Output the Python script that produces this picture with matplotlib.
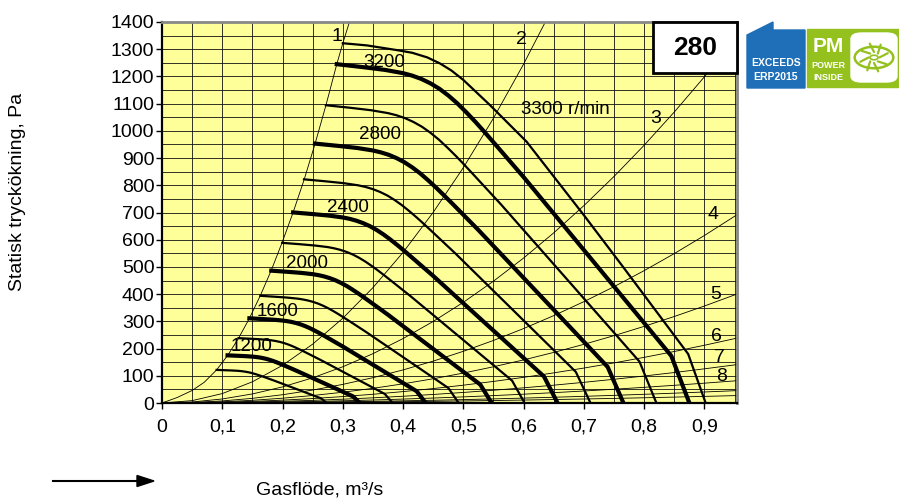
import numpy as np
import matplotlib.pyplot as plt
from matplotlib.patches import Rectangle, Polygon, FancyBboxPatch, Circle
from matplotlib.ticker import MultipleLocator, FuncFormatter

plt.rcParams['font.family'] = ['Liberation Sans', 'DejaVu Sans']

# fläktkurvor (flöde m3/s, tryck Pa)
q_1000 = [0.0906, 0.1044, 0.1156, 0.125, 0.1297, 0.1344, 0.1391, 0.1438, 0.1484, 0.1531, 0.1578, 0.1625, 0.1672, 0.1719, 0.1875, 0.2188, 0.25, 0.2641, 0.2734]
p_1000 = [121.6, 120.5, 119.5, 118.4, 117.5, 116.3, 114.7, 112.8, 110.4, 107.5, 104.3, 100.9, 97.3, 93.6, 81.1, 54.9, 28.7, 16.9, 0]
q_1200 = [0.1088, 0.1253, 0.1388, 0.15, 0.1556, 0.1613, 0.1669, 0.1725, 0.1781, 0.1838, 0.1894, 0.195, 0.2006, 0.2063, 0.225, 0.2625, 0.3, 0.3169, 0.3281]
p_1200 = [175.1, 173.5, 172.1, 170.4, 169.2, 167.5, 165.2, 162.4, 158.9, 154.8, 150.2, 145.3, 140.1, 134.7, 116.7, 79.0, 41.3, 24.3, 0]
q_1400 = [0.1269, 0.1461, 0.1619, 0.175, 0.1816, 0.1881, 0.1947, 0.2013, 0.2078, 0.2144, 0.2209, 0.2275, 0.2341, 0.2406, 0.2625, 0.3063, 0.35, 0.3697, 0.3828]
p_1400 = [238.3, 236.2, 234.3, 232.0, 230.3, 228.0, 224.9, 221.1, 216.3, 210.7, 204.4, 197.7, 190.6, 183.4, 158.9, 107.6, 56.3, 33.1, 0]
q_1600 = [0.145, 0.167, 0.185, 0.2, 0.2075, 0.215, 0.2225, 0.23, 0.2375, 0.245, 0.2525, 0.26, 0.2675, 0.275, 0.3, 0.35, 0.4, 0.4225, 0.4375]
p_1600 = [311.3, 308.5, 306, 303, 300.8, 297.8, 293.8, 288.8, 282.5, 275.3, 267, 258.3, 249, 239.5, 207.5, 140.5, 73.5, 43.3, 0]
q_1800 = [0.1631, 0.1879, 0.2081, 0.225, 0.2334, 0.2419, 0.2503, 0.2588, 0.2672, 0.2756, 0.2841, 0.2925, 0.3009, 0.3094, 0.3375, 0.3938, 0.45, 0.4753, 0.4922]
p_1800 = [393.9, 390.4, 387.3, 383.5, 380.6, 376.8, 371.8, 365.4, 357.5, 348.4, 337.9, 326.8, 315.1, 303.1, 262.6, 177.8, 93.0, 54.7, 0]
q_2000 = [0.1813, 0.2088, 0.2313, 0.25, 0.2594, 0.2688, 0.2781, 0.2875, 0.2969, 0.3063, 0.3156, 0.325, 0.3344, 0.3438, 0.375, 0.4375, 0.5, 0.5281, 0.5469]
p_2000 = [486.3, 482.0, 478.1, 473.4, 469.9, 465.2, 459.0, 451.2, 441.4, 430.1, 417.2, 403.5, 389.1, 374.2, 324.2, 219.5, 114.8, 67.6, 0]
q_2200 = [0.1994, 0.2296, 0.2544, 0.275, 0.2853, 0.2956, 0.3059, 0.3163, 0.3266, 0.3369, 0.3472, 0.3575, 0.3678, 0.3781, 0.4125, 0.4813, 0.55, 0.5809, 0.6016]
p_2200 = [588.5, 583.3, 578.5, 572.9, 568.6, 562.9, 555.4, 545.9, 534.1, 520.4, 504.8, 488.3, 470.8, 452.8, 392.3, 265.6, 139.0, 81.8, 0]
q_2400 = [0.2175, 0.2505, 0.2775, 0.3, 0.3113, 0.3225, 0.3338, 0.345, 0.3563, 0.3675, 0.3788, 0.39, 0.4013, 0.4125, 0.45, 0.525, 0.6, 0.6338, 0.6563]
p_2400 = [700.3, 694.1, 688.5, 681.8, 676.7, 669.9, 660.9, 649.7, 635.6, 619.3, 600.8, 581.1, 560.3, 538.9, 466.9, 316.1, 165.4, 97.3, 0]
q_2600 = [0.2356, 0.2714, 0.3006, 0.325, 0.3372, 0.3494, 0.3616, 0.3738, 0.3859, 0.3981, 0.4103, 0.4225, 0.4347, 0.4469, 0.4875, 0.5688, 0.65, 0.6866, 0.7109]
p_2600 = [821.9, 814.6, 808.0, 800.1, 794.2, 786.2, 775.7, 762.5, 746.0, 726.8, 705.0, 681.9, 657.5, 632.4, 547.9, 371.0, 194.1, 114.2, 0]
q_2800 = [0.2538, 0.2923, 0.3238, 0.35, 0.3631, 0.3763, 0.3894, 0.4025, 0.4156, 0.4288, 0.4419, 0.455, 0.4681, 0.4813, 0.525, 0.6125, 0.7, 0.7394, 0.7656]
p_2800 = [953.2, 944.8, 937.1, 927.9, 921.0, 911.9, 899.6, 884.3, 865.2, 843.0, 817.7, 790.9, 762.6, 733.5, 635.5, 430.3, 225.1, 132.5, 0]
q_3000 = [0.2719, 0.3131, 0.3469, 0.375, 0.3891, 0.4031, 0.4172, 0.4313, 0.4453, 0.4594, 0.4734, 0.4875, 0.5016, 0.5156, 0.5625, 0.6563, 0.75, 0.7922, 0.8203]
p_3000 = [1094.2, 1084.6, 1075.8, 1065.2, 1057.3, 1046.8, 1032.7, 1015.1, 993.2, 967.7, 938.7, 907.9, 875.4, 842.0, 729.5, 493.9, 258.4, 152.1, 0]
q_3200 = [0.290, 0.334, 0.370, 0.400, 0.415, 0.430, 0.445, 0.460, 0.475, 0.490, 0.505, 0.520, 0.535, 0.550, 0.600, 0.700, 0.800, 0.845, 0.875]
p_3200 = [1245, 1234, 1224, 1212, 1203, 1191, 1175, 1155, 1130, 1101, 1068, 1033, 996, 958, 830, 562, 294, 173, 0]
q_3300 = [0.300, 0.340, 0.389, 0.415, 0.440, 0.461, 0.480, 0.500, 0.544, 0.605, 0.700, 0.765, 0.873, 0.902]
p_3300 = [1322, 1314, 1297, 1287, 1270, 1248, 1222, 1187, 1095, 960, 690, 500, 180, 0]

tjocka = [1200, 1600, 2000, 2400, 2800, 3200]

# systemkurvor
q_sys1 = [0, 0.025, 0.05, 0.07, 0.0906, 0.109, 0.127, 0.145, 0.163, 0.181, 0.199, 0.2175, 0.236, 0.254, 0.272, 0.290, 0.300, 0.311]
p_sys1 = [0, 20, 46, 76, 121.6, 175, 238, 311, 394, 486, 588, 700, 822, 953, 1094, 1245, 1322, 1400]
q_sys2 = [0, 0.05, 0.1, 0.15, 0.2, 0.25, 0.3, 0.35, 0.4, 0.45, 0.5, 0.55, 0.6, 0.636]
p_sys2 = [0, 8.7, 34.6, 77.9, 138.4, 216.3, 311.4, 423.9, 553.6, 700.7, 865, 1046.7, 1245.6, 1400]
q_sys = [0, 0.05, 0.1, 0.15, 0.2, 0.25, 0.3, 0.35, 0.4, 0.45, 0.5, 0.55, 0.6, 0.65, 0.7, 0.75, 0.8, 0.85, 0.9, 0.954]
p_sys3 = [0, 3.7, 14.8, 33.3, 59.2, 92.5, 133.2, 181.3, 236.8, 299.7, 370, 447.7, 532.8, 625.3, 725.2, 832.5, 947.2, 1069.3, 1198.8, 1347]
p_sys4 = [0, 1.9, 7.6, 17.1, 30.4, 47.5, 68.4, 93.1, 121.6, 153.9, 190, 229.9, 273.6, 321.1, 372.4, 427.5, 486.4, 549.1, 615.6, 691.7]
p_sys5 = [0, 1.1, 4.4, 9.9, 17.6, 27.5, 39.6, 53.9, 70.4, 89.1, 110, 133.1, 158.4, 185.9, 215.6, 247.5, 281.6, 317.9, 356.4, 400.4]
p_sys6 = [0, 0.7, 2.6, 5.9, 10.5, 16.4, 23.6, 32.1, 41.9, 53.1, 65.5, 79.3, 94.3, 110.7, 128.4, 147.4, 167.7, 189.3, 212.2, 238.4]
p_sys7 = [0, 0.4, 1.6, 3.5, 6.2, 9.7, 14, 19, 24.8, 31.4, 38.8, 46.9, 55.8, 65.5, 76, 87.2, 99.2, 112, 125.6, 141.1]
p_sys8 = [0, 0.2, 0.9, 2, 3.6, 5.6, 8.1, 11, 14.4, 18.2, 22.5, 27.2, 32.4, 38, 44.1, 50.6, 57.6, 65, 72.9, 81.9]
p_sys9 = [0, 0.1, 0.5, 1.1, 2, 3.1, 4.5, 6.1, 8, 10.1, 12.5, 15.1, 18, 21.1, 24.5, 28.1, 32, 36.1, 40.5, 45.5]
p_sys10 = [0, 0.1, 0.3, 0.7, 1.2, 1.9, 2.7, 3.7, 4.8, 6.1, 7.5, 9.1, 10.8, 12.7, 14.7, 16.9, 19.2, 21.7, 24.3, 27.3]

sys_etiketter = ['1', '2', '3', '4', '5', '6', '7', '8']
sys_etikett_q = [0.290, 0.597, 0.819, 0.914, 0.919, 0.920, 0.925, 0.929]
sys_etikett_p = [1345, 1334, 1047, 691, 397, 246, 169, 96]

varv_etiketter = ['1200', '1600', '2000', '2400', '2800', '3200', '3300 r/min']
varv_etikett_q = [0.149, 0.191, 0.2405, 0.3085, 0.3615, 0.368, 0.670]
varv_etikett_p = [206, 338, 511, 720, 985, 1253, 1077]

fs = 14

fig = plt.figure(figsize=(8.99, 5.0), dpi=100)
ax = fig.add_axes([162/899, 97/500, 575/899, 381/500])
ax.set_facecolor('#ffff99')

ax.set_xlim(0, 0.954)
ax.set_ylim(0, 1400)
ax.xaxis.set_major_locator(MultipleLocator(0.1))
ax.xaxis.set_minor_locator(MultipleLocator(0.05))
ax.yaxis.set_major_locator(MultipleLocator(100))
ax.yaxis.set_minor_locator(MultipleLocator(50))
ax.xaxis.set_major_formatter(FuncFormatter(lambda v, pos: ('%g' % round(v, 2)).replace('.', ',')))
ax.grid(which='major', color='#888888', lw=1.5, zorder=0)
ax.grid(which='major', color='#111111', lw=0.6, zorder=0)
ax.grid(which='minor', color='#111111', lw=0.6, zorder=0)
ax.set_axisbelow(True)
ax.tick_params(which='minor', length=0)
ax.tick_params(which='major', direction='out', length=4.5, width=1, labelsize=fs)
ax.tick_params(axis='x', pad=7)
ax.tick_params(axis='y', pad=1)
for s in ['top', 'right']:
    ax.spines[s].set_color('#888888')
    ax.spines[s].set_linewidth(2)
for s in ['left', 'bottom']:
    ax.spines[s].set_linewidth(1.6)

# systemkurvor
ax.plot(q_sys1, p_sys1, color='black', lw=0.6, zorder=2)
ax.plot(q_sys2, p_sys2, color='black', lw=0.6, zorder=2)
for p in [p_sys3, p_sys4, p_sys5, p_sys6, p_sys7, p_sys8, p_sys9, p_sys10]:
    ax.plot(q_sys, p, color='black', lw=0.6, zorder=2)

kurvor = [(1000, q_1000, p_1000), (1200, q_1200, p_1200), (1400, q_1400, p_1400),
          (1600, q_1600, p_1600), (1800, q_1800, p_1800), (2000, q_2000, p_2000),
          (2200, q_2200, p_2200), (2400, q_2400, p_2400), (2600, q_2600, p_2600),
          (2800, q_2800, p_2800), (3000, q_3000, p_3000), (3200, q_3200, p_3200),
          (3300, q_3300, p_3300)]
for n, q, p in kurvor:
    lw = 3.0 if n in tjocka else 1.6
    ax.plot(q, p, color='black', lw=lw, zorder=3, solid_joinstyle='round')

for t, q, p in zip(sys_etiketter, sys_etikett_q, sys_etikett_p):
    ax.text(q, p, t, ha='center', va='center', fontsize=fs, zorder=4)
for t, q, p in zip(varv_etiketter, varv_etikett_q, varv_etikett_p):
    ax.text(q, p, t, ha='center', va='center', fontsize=13.5, zorder=4)

# storleksruta
ax.add_patch(Rectangle((0.814, 1213), 0.14, 187, facecolor='white', edgecolor='black',
                       lw=2, zorder=5, clip_on=False))
ax.text(0.884, 1305, '280', ha='center', va='center', fontsize=19, fontweight='bold', zorder=6)

fig.text(18/899, 1 - 192/500, 'Statisk tryckökning, Pa', rotation=90, ha='center', va='center', fontsize=fs)
fig.text(320/899, 1 - 490/500, 'Gasflöde, m³/s', ha='center', va='center', fontsize=fs)
fig.add_artist(plt.Line2D([53/899, 140/899], [1 - 481/500] * 2, color='black', lw=1.5))
fig.add_artist(Polygon([[137/899, 1 - 475.5/500], [154/899, 1 - 481/500], [137/899, 1 - 486.5/500]],
                       closed=True, color='black', transform=fig.transFigure))


# logotyper
def fx(x):
    return x / 899


def fy(y):
    return 1 - y / 500


blue = '#1e6fb8'
green = '#95c11f'
fig.add_artist(Polygon([[fx(747), fy(35)], [fx(773), fy(22)], [fx(773), fy(30)], [fx(805), fy(30)],
                        [fx(805), fy(88)], [fx(747), fy(88)]], closed=True, color=blue,
                       transform=fig.transFigure))
fig.text(fx(776), fy(63), 'EXCEEDS', ha='center', va='center', color='white', fontsize=7.5,
         fontweight='bold')
fig.text(fx(776), fy(77), 'ERP2015', ha='center', va='center', color='white', fontsize=7.5,
         fontweight='bold')
fig.add_artist(Rectangle((fx(807), fy(87)), fx(92), 58/500, color=green, transform=fig.transFigure))
fig.text(fx(828), fy(46), 'PM', ha='center', va='center', color='white', fontsize=15,
         fontweight='bold')
fig.text(fx(828), fy(66), 'POWER', ha='center', va='center', color='white', fontsize=6.5,
         fontweight='bold')
fig.text(fx(828), fy(77), 'INSIDE', ha='center', va='center', color='white', fontsize=6.5,
         fontweight='bold')
fig.add_artist(FancyBboxPatch((fx(851), fy(82)), fx(46), 49/500, boxstyle='round,pad=0,rounding_size=0.012',
                              color='white', transform=fig.transFigure))
cx, cy = fx(874), fy(57.5)
fig.add_artist(Circle((cx, cy), 0.0215, facecolor='none', edgecolor=green, lw=1.8,
                      transform=fig.transFigure))
for a in np.linspace(0, 2 * np.pi, 9)[:-1]:
    fig.add_artist(plt.Line2D([cx + 0.006 * np.cos(a), cx + 0.016 * np.cos(a + 0.3)],
                              [cy + 0.011 * np.sin(a), cy + 0.029 * np.sin(a + 0.3)],
                              color=green, lw=1.6, solid_capstyle='round'))
fig.add_artist(Circle((cx, cy), 0.0045, facecolor='white', edgecolor=green, lw=1.2,
                      transform=fig.transFigure))

fig.savefig('out.png', dpi=100)
